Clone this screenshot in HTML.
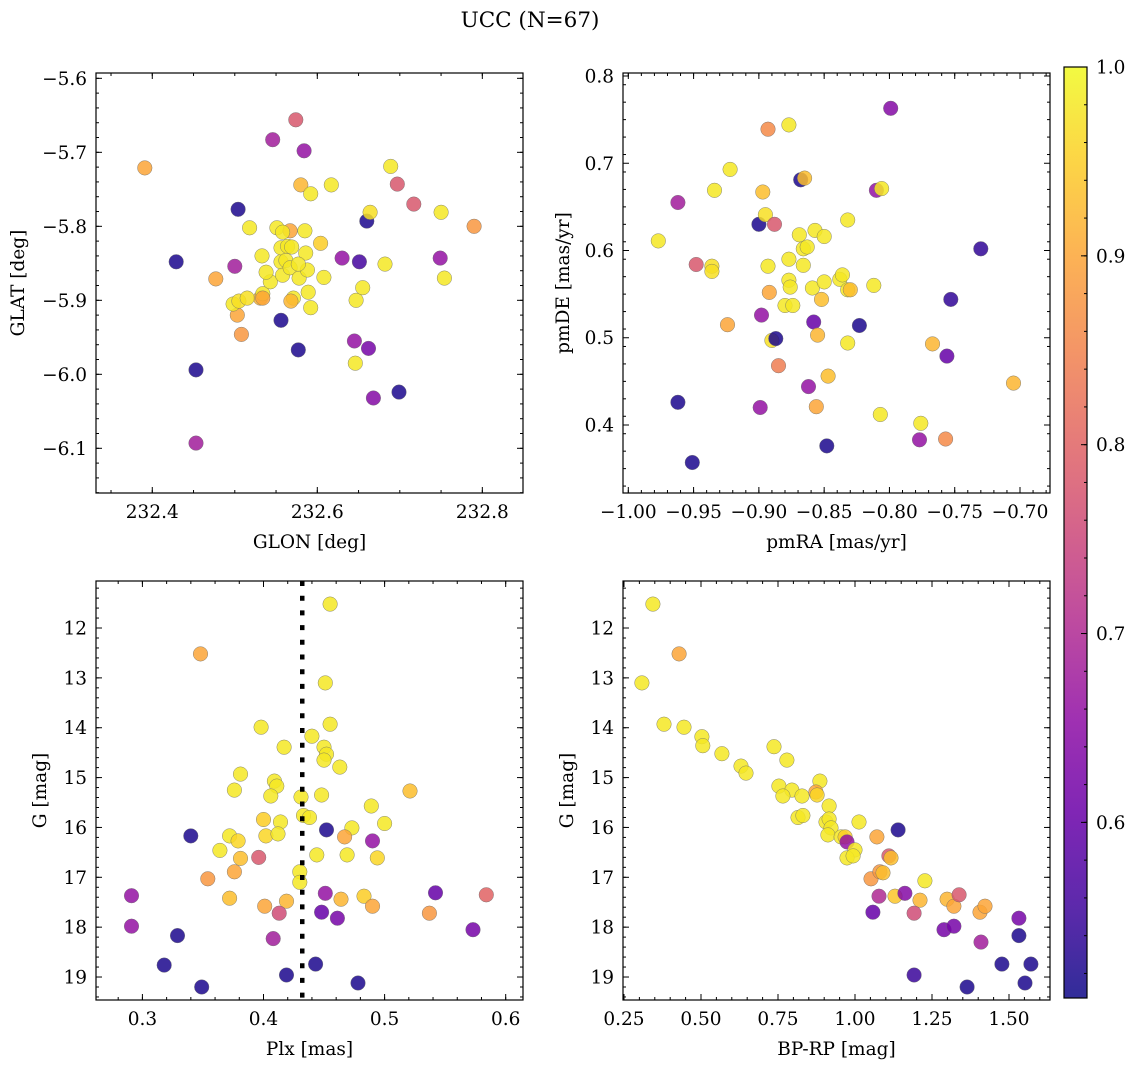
<!DOCTYPE html>
<html><head><meta charset="utf-8"><title>UCC (N=67)</title>
<style>
html,body{margin:0;padding:0;background:#fff;}
svg{display:block;font-family:"DejaVu Serif","Liberation Serif",serif;}
</style></head>
<body>
<svg id="fig" width="1136" height="1067" viewBox="0 0 1136 1067" xmlns="http://www.w3.org/2000/svg">
<text x="530" y="27" font-size="21.5" text-anchor="middle">UCC (N=67)</text>
</svg>
<script>
// ---------- Panel 1: GLON vs GLAT ----------
const glon = [232.391,232.429,232.453,232.453,232.477,232.500,232.504,232.503,232.508,232.498,232.505,232.518,232.533,232.531,232.534,232.543,232.546,232.551,232.556,232.556,232.558,232.562,232.564,232.567,232.569,232.567,232.571,232.568,232.578,232.556,232.577,232.580,232.574,232.584,232.585,232.586,232.588,232.592,232.589,232.592,232.604,232.608,232.617,232.630,232.651,232.647,232.655,232.645,232.646,232.662,232.668,232.660,232.664,232.682,232.689,232.697,232.699,232.717,232.749,232.750,232.754,232.790,232.515,232.538,232.577,232.558,232.534];
const glat = [-5.721,-5.848,-5.994,-6.093,-5.871,-5.854,-5.777,-5.920,-5.946,-5.905,-5.901,-5.802,-5.840,-5.897,-5.891,-5.875,-5.683,-5.802,-5.848,-5.829,-5.866,-5.846,-5.827,-5.806,-5.828,-5.856,-5.897,-5.901,-5.870,-5.927,-5.967,-5.744,-5.656,-5.698,-5.806,-5.836,-5.859,-5.756,-5.889,-5.910,-5.823,-5.869,-5.744,-5.843,-5.848,-5.900,-5.883,-5.955,-5.985,-5.965,-6.032,-5.793,-5.781,-5.851,-5.719,-5.743,-6.024,-5.770,-5.843,-5.781,-5.870,-5.800,-5.897,-5.862,-5.851,-5.808,-5.897];
const prob1 = [0.90,0.52,0.52,0.68,0.90,0.68,0.52,0.90,0.88,0.98,0.97,0.98,0.98,0.92,0.98,0.98,0.68,0.98,0.98,0.98,0.98,0.98,0.98,0.90,0.98,0.98,0.98,0.92,0.98,0.52,0.52,0.92,0.78,0.66,0.98,0.98,0.98,0.98,0.98,0.98,0.95,0.98,0.98,0.66,0.56,0.98,0.98,0.66,0.98,0.62,0.64,0.52,0.97,0.98,0.98,0.78,0.52,0.78,0.66,0.98,0.98,0.88,0.97,0.98,0.98,0.98,0.90];
// ---------- Panel 2: pmRA vs pmDE ----------
const pmra = [-0.977,-0.962,-0.962,-0.951,-0.948,-0.936,-0.936,-0.934,-0.922,-0.924,-0.900,-0.898,-0.899,-0.895,-0.897,-0.893,-0.893,-0.892,-0.888,-0.890,-0.887,-0.885,-0.880,-0.877,-0.877,-0.876,-0.877,-0.874,-0.869,-0.868,-0.865,-0.866,-0.866,-0.863,-0.862,-0.859,-0.858,-0.857,-0.856,-0.855,-0.852,-0.850,-0.850,-0.847,-0.848,-0.838,-0.836,-0.832,-0.832,-0.832,-0.830,-0.823,-0.810,-0.806,-0.812,-0.807,-0.799,-0.777,-0.776,-0.767,-0.757,-0.756,-0.753,-0.730,-0.705];
const pmde = [0.611,0.655,0.426,0.357,0.584,0.582,0.576,0.669,0.693,0.515,0.630,0.526,0.420,0.641,0.667,0.739,0.582,0.552,0.630,0.497,0.499,0.468,0.537,0.590,0.566,0.558,0.744,0.537,0.618,0.681,0.683,0.602,0.583,0.604,0.444,0.557,0.518,0.623,0.421,0.503,0.544,0.616,0.564,0.456,0.376,0.567,0.572,0.635,0.555,0.494,0.555,0.514,0.669,0.671,0.560,0.412,0.763,0.383,0.402,0.493,0.384,0.479,0.544,0.602,0.448];
const prob2 = [0.98,0.68,0.52,0.52,0.78,0.97,0.97,0.98,0.98,0.90,0.52,0.66,0.66,0.97,0.93,0.86,0.98,0.90,0.78,0.97,0.52,0.84,0.98,0.98,0.98,0.98,0.98,0.98,0.98,0.52,0.93,0.98,0.98,0.98,0.66,0.98,0.60,0.98,0.90,0.92,0.93,0.98,0.98,0.93,0.52,0.98,0.98,0.98,0.98,0.98,0.93,0.52,0.66,0.98,0.98,0.98,0.64,0.66,0.98,0.92,0.86,0.60,0.54,0.54,0.92];
// ---------- Panel 3: Plx vs G ----------
const plx = [0.398,0.455,0.440,0.417,0.450,0.452,0.450,0.463,0.381,0.376,0.409,0.411,0.406,0.431,0.448,0.489,0.500,0.400,0.414,0.433,0.438,0.452,0.473,0.467,0.490,0.372,0.379,0.402,0.412,0.364,0.381,0.396,0.444,0.469,0.494,0.376,0.354,0.430,0.430,0.451,0.464,0.483,0.490,0.372,0.401,0.419,0.413,0.448,0.461,0.408,0.455,0.348,0.291,0.291,0.329,0.318,0.349,0.419,0.443,0.478,0.542,0.573,0.584,0.537,0.451,0.521,0.340];
const gmag3 = [13.99,13.93,14.17,14.39,14.39,14.53,14.65,14.79,14.93,15.25,15.07,15.17,15.37,15.39,15.35,15.57,15.92,15.84,15.89,15.76,15.80,16.05,16.01,16.19,16.27,16.17,16.27,16.17,16.13,16.46,16.62,16.60,16.55,16.55,16.61,16.89,17.03,16.89,17.10,17.32,17.44,17.38,17.58,17.42,17.58,17.48,17.72,17.70,17.82,18.23,11.52,12.52,17.37,17.98,18.17,18.76,19.20,18.96,18.74,19.12,17.31,18.05,17.35,17.72,13.10,15.27,16.17];
const prob3 = [0.98,0.98,0.98,0.98,0.98,0.98,0.98,0.98,0.98,0.98,0.98,0.98,0.98,0.98,0.98,0.98,0.98,0.95,0.98,0.98,0.98,0.52,0.98,0.90,0.66,0.98,0.96,0.96,0.98,0.98,0.93,0.78,0.98,0.98,0.96,0.90,0.88,0.98,0.98,0.66,0.92,0.95,0.90,0.93,0.90,0.92,0.76,0.60,0.62,0.68,0.98,0.90,0.66,0.66,0.52,0.52,0.52,0.52,0.52,0.52,0.60,0.62,0.80,0.88,0.98,0.93,0.52];
const plxRef = [0.432];
// ---------- Panel 4: BP-RP vs G ----------
const bprp = [0.344,0.429,0.308,0.380,0.445,0.503,0.506,0.568,0.630,0.646,0.737,0.779,0.753,0.795,0.766,0.828,0.886,0.873,0.877,0.916,0.815,0.831,0.906,0.916,0.922,0.912,0.955,0.968,0.974,1.013,1.000,0.974,0.994,1.071,1.140,1.110,1.117,1.052,1.081,1.091,1.227,1.078,1.130,1.162,1.211,1.058,1.192,1.299,1.321,1.338,1.406,1.422,1.289,1.321,1.409,1.532,1.532,1.477,1.571,1.192,1.364,1.552];
const gmag4 = [11.52,12.52,13.10,13.93,13.99,14.18,14.36,14.52,14.77,14.91,14.38,14.65,15.17,15.25,15.37,15.37,15.07,15.29,15.35,15.57,15.80,15.76,15.89,15.83,16.01,16.15,16.19,16.19,16.29,15.89,16.45,16.61,16.57,16.19,16.05,16.57,16.61,17.03,16.89,16.91,17.07,17.38,17.38,17.32,17.46,17.70,17.72,17.44,17.58,17.35,17.70,17.58,18.05,17.98,18.30,17.82,18.17,18.74,18.74,18.96,19.20,19.12];
const prob4 = [0.98,0.90,0.98,0.98,0.98,0.98,0.98,0.98,0.98,0.98,0.98,0.98,0.98,0.98,0.98,0.98,0.98,0.90,0.96,0.98,0.98,0.98,0.98,0.98,0.98,0.98,0.98,0.95,0.66,0.98,0.98,0.98,0.98,0.90,0.52,0.78,0.93,0.88,0.88,0.93,0.98,0.70,0.94,0.64,0.92,0.60,0.76,0.92,0.90,0.78,0.90,0.90,0.62,0.62,0.68,0.62,0.52,0.52,0.52,0.55,0.52,0.52];
// ---------- tick labels ----------
const p1XTicks = [232.4,232.6,232.8];
const p1XLabels = ["232.4","232.6","232.8"];
const p1YTicks = [-5.6,-5.7,-5.8,-5.9,-6.0,-6.1];
const p1YLabels = ["\u22125.6","\u22125.7","\u22125.8","\u22125.9","\u22126.0","\u22126.1"];
const p2XTicks = [-1.0,-0.95,-0.9,-0.85,-0.8,-0.75,-0.7];
const p2XLabels = ["\u22121.00","\u22120.95","\u22120.90","\u22120.85","\u22120.80","\u22120.75","\u22120.70"];
const p2YTicks = [0.4,0.5,0.6,0.7,0.8];
const p2YLabels = ["0.4","0.5","0.6","0.7","0.8"];
const p3XTicks = [0.3,0.4,0.5,0.6];
const p3XLabels = ["0.3","0.4","0.5","0.6"];
const gTicks = [12,13,14,15,16,17,18,19];
const gLabels = ["12","13","14","15","16","17","18","19"];
const p4XTicks = [0.25,0.5,0.75,1.0,1.25,1.5];
const p4XLabels = ["0.25","0.50","0.75","1.00","1.25","1.50"];
const cbTicks = [0.6,0.7,0.8,0.9,1.0];
const cbLabels = ["0.6","0.7","0.8","0.9","1.0"];

const NS = "http://www.w3.org/2000/svg";
const svg = document.getElementById('fig');
const VMIN = 0.507, VMAX = 1.0;
const FS = 18.5;
const plasmaStops = [[13,8,135],[65,4,157],[106,0,168],[143,13,164],[177,42,144],[204,71,120],[225,100,98],[242,132,75],[252,166,54],[252,206,37],[240,249,33]];
function plasma(t){
  t = Math.max(0, Math.min(1, t));
  const s = t * 10, i = Math.min(9, Math.floor(s)), f = s - i;
  const a = plasmaStops[i], b = plasmaStops[i+1];
  return 'rgb(' + [0,1,2].map(k => Math.round(a[k] + (b[k]-a[k]) * f)).join(',') + ')';
}
function colorOf(p){ return plasma((p - VMIN) / (VMAX - VMIN)); }
function el(tag, attrs, parent){
  const e = document.createElementNS(NS, tag);
  for (const k in attrs) e.setAttribute(k, attrs[k]);
  (parent || svg).appendChild(e);
  return e;
}
function lin(d0, d1, r0, r1){ return v => r0 + (v - d0) / (d1 - d0) * (r1 - r0); }
function range(a, b, step){ const out = []; const n = Math.round((b - a) / step); for (let i = 0; i <= n; i++) out.push(a + i * step); return out; }

function panel(cfg){
  const g = el('g', {});
  
  
  const L = cfg.box[0], T = cfg.box[1], R = cfg.box[2], B = cfg.box[3];
  const sx = lin(cfg.xd[0], cfg.xd[1], L, R);
  const sy = lin(cfg.yd[0], cfg.yd[1], T, B);
  const cid = 'clip-' + cfg.name;
  const cp = el('clipPath', {id: cid}, g);
  el('rect', {x: L, y: T, width: R - L, height: B - T}, cp);
  const pts = el('g', {'clip-path': 'url(#' + cid + ')'}, g);
  
  
  for (let i = 0; i < cfg.xs.length; i++){
    const c = el('circle', {cx: sx(cfg.xs[i]).toFixed(1), cy: sy(cfg.ys[i]).toFixed(1), r: 7.3, fill: colorOf(cfg.cs[i]), 'fill-opacity': 0.85, stroke: '#6b6b6b', 'stroke-width': 0.5, 'stroke-opacity': 0.8}, pts);
    
    
  }
  if (cfg.vline){
    const ln = el('line', {x1: sx(cfg.vline[0]), x2: sx(cfg.vline[0]), y1: T, y2: B, stroke: '#000', 'stroke-width': 4.5, 'stroke-dasharray': '5 9.7'}, pts);
    
    
  }
  const fr = el('rect', {x: L, y: T, width: R - L, height: B - T, fill: 'none', stroke: '#000', 'stroke-width': 1.2}, g);
  
  
  const tk = el('g', {stroke: '#000', 'stroke-width': 1}, g);
  range(cfg.xMinor[0], cfg.xMinor[1], cfg.xMinor[2]).forEach(v => {
    const x = sx(v); if (x < L - 0.5 || x > R + 0.5) return;
    el('line', {x1: x, x2: x, y1: B, y2: B - 3}, tk);
    el('line', {x1: x, x2: x, y1: T, y2: T + 3}, tk);
  });
  range(cfg.yMinor[0], cfg.yMinor[1], cfg.yMinor[2]).forEach(v => {
    const y = sy(v); if (y < T - 0.5 || y > B + 0.5) return;
    el('line', {x1: L, x2: L + 3, y1: y, y2: y}, tk);
    el('line', {x1: R, x2: R - 3, y1: y, y2: y}, tk);
  });
  const xl = el('g', {'font-size': FS, 'text-anchor': 'middle'}, g);
  
  
  cfg.xt.forEach((v, i) => {
    const x = sx(v);
    el('line', {x1: x, x2: x, y1: B, y2: B - 6}, tk);
    el('line', {x1: x, x2: x, y1: T, y2: T + 6}, tk);
    const t = el('text', {x: x, y: B + 25}, xl);
    t.textContent = cfg.xl[i];
  });
  const yl = el('g', {'font-size': FS, 'text-anchor': 'end'}, g);
  
  
  cfg.yt.forEach((v, i) => {
    const y = sy(v);
    el('line', {x1: L, x2: L + 6, y1: y, y2: y}, tk);
    el('line', {x1: R, x2: R - 6, y1: y, y2: y}, tk);
    const t = el('text', {x: L - 9, y: y + 6.5}, yl);
    t.textContent = cfg.yl[i];
  });
  const xt = el('text', {x: (L + R) / 2, y: B + 55, 'font-size': FS, 'text-anchor': 'middle'}, g);
  
  
  xt.textContent = cfg.xTitle;
  const yt = el('text', {x: 0, y: 0, 'font-size': FS, 'text-anchor': 'middle', transform: 'translate(' + cfg.yTitleX + ',' + ((T + B) / 2) + ') rotate(-90)'}, g);
  
  
  yt.textContent = cfg.yTitle;
}

panel({name: 'glon-glat-panel', box: [96, 73, 523, 493], xd: [232.3318, 232.8493], yd: [-5.5928, -6.1604],
  xs: glon, ys: glat, cs: prob1, xt: p1XTicks, xl: p1XLabels, yt: p1YTicks, yl: p1YLabels,
  xMinor: [232.35, 232.85, 0.05], yMinor: [-6.16, -5.6, 0.02], xTitle: 'GLON [deg]', yTitle: 'GLAT [deg]', yTitleX: 24});
panel({name: 'pm-panel', box: [623, 73, 1050, 493], xd: [-1.00406, -0.67703], yd: [0.80344, 0.32206],
  xs: pmra, ys: pmde, cs: prob2, xt: p2XTicks, xl: p2XLabels, yt: p2YTicks, yl: p2YLabels,
  xMinor: [-1.0, -0.68, 0.01], yMinor: [0.33, 0.8, 0.02], xTitle: 'pmRA [mas/yr]', yTitle: 'pmDE [mas/yr]', yTitleX: 569});
panel({name: 'plx-g-panel', box: [96, 581, 523, 1000], xd: [0.26168, 0.61429], yd: [11.057, 19.461],
  xs: plx, ys: gmag3, cs: prob3, xt: p3XTicks, xl: p3XLabels, yt: gTicks, yl: gLabels, vline: plxRef,
  xMinor: [0.26, 0.62, 0.02], yMinor: [11.2, 19.4, 0.2], xTitle: 'Plx [mas]', yTitle: 'G [mag]', yTitleX: 46});
panel({name: 'cmd-panel', box: [623, 581, 1050, 1000], xd: [0.2468, 1.6331], yd: [11.057, 19.461],
  xs: bprp, ys: gmag4, cs: prob4, xt: p4XTicks, xl: p4XLabels, yt: gTicks, yl: gLabels,
  xMinor: [0.25, 1.6, 0.05], yMinor: [11.2, 19.4, 0.2], xTitle: 'BP-RP [mag]', yTitle: 'G [mag]', yTitleX: 573});

// ---------- colorbar ----------
(function(){
  const L = 1064, R = 1087, T = 67, B = 998;
  const cg = el('g', {});
  
  
  const defs = el('defs', {}, cg);
  const grad = el('linearGradient', {id: 'cbgrad', x1: 0, y1: 1, x2: 0, y2: 0}, defs);
  for (let i = 0; i <= 20; i++){
    const p = VMIN + (VMAX - VMIN) * i / 20;
    el('stop', {offset: (i / 20).toFixed(3), 'stop-color': colorOf(p)}, grad);
  }
  el('rect', {x: L, y: T, width: R - L, height: B - T, fill: 'url(#cbgrad)', 'fill-opacity': 0.85}, cg);
  el('rect', {x: L, y: T, width: R - L, height: B - T, fill: 'none', stroke: '#000', 'stroke-width': 1.2}, cg);
  const sc = lin(VMIN, VMAX, B, T);
  const tk = el('g', {stroke: '#000', 'stroke-width': 1}, cg);
  range(0.52, 1.0, 0.02).forEach(v => { const y = sc(v); el('line', {x1: R, x2: R - 3, y1: y, y2: y}, tk); });
  const lab = el('g', {'font-size': FS}, cg);
  
  
  cbTicks.forEach((v, i) => {
    const y = sc(v);
    el('line', {x1: R, x2: R - 6, y1: y, y2: y}, tk);
    const t = el('text', {x: R + 9, y: y + 6.5}, lab);
    t.textContent = cbLabels[i];
  });
})();
</script>
</body></html>
